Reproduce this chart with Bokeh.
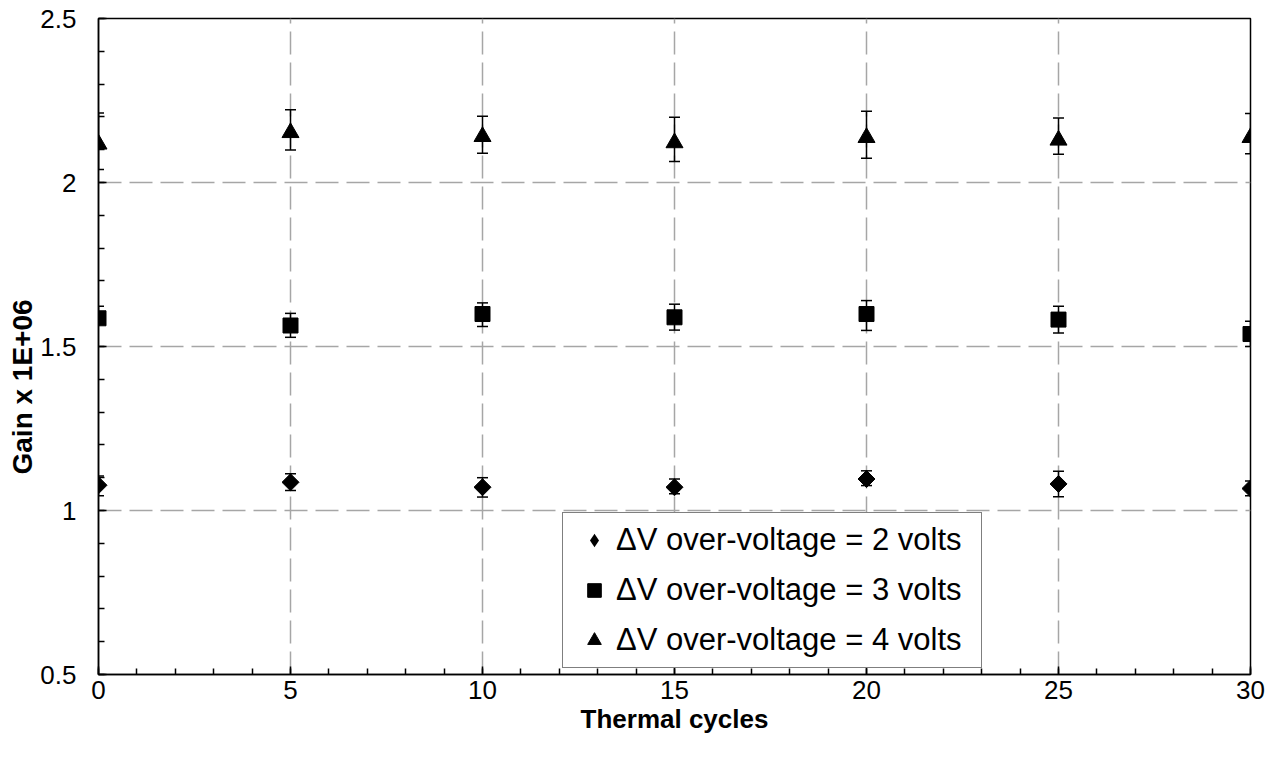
import math
from bokeh.plotting import figure
from bokeh.models import (ColumnDataSource, Range1d, SingleIntervalTicker, NumeralTickFormatter,
                          Whisker, TeeHead, Legend, LegendItem, Title)
from bokeh.embed import file_html
from bokeh.resources import INLINE

# ---- data ----
cycles = [0, 5, 10, 15, 20, 25, 30]

gain_2v = [1.077, 1.086, 1.071, 1.071, 1.096, 1.081, 1.067]
gain_2v_hi = [1.105, 1.112, 1.100, 1.096, 1.121, 1.120, 1.090]
gain_2v_lo = [1.045, 1.061, 1.041, 1.051, 1.076, 1.042, 1.045]

gain_3v = [1.586, 1.564, 1.599, 1.589, 1.599, 1.582, 1.538]
gain_3v_hi = [1.623, 1.601, 1.633, 1.629, 1.640, 1.623, 1.577]
gain_3v_lo = [1.569, 1.528, 1.561, 1.550, 1.549, 1.541, 1.500]

gain_4v = [2.117, 2.152, 2.140, 2.121, 2.137, 2.129, 2.137]
gain_4v_hi = [2.212, 2.222, 2.202, 2.199, 2.217, 2.197, 2.210]
gain_4v_lo = [2.040, 2.099, 2.089, 2.064, 2.074, 2.086, 2.088]

series_labels = ["\u0394V over-voltage = 2 volts",
                 "\u0394V over-voltage = 3 volts",
                 "\u0394V over-voltage = 4 volts"]
x_title = "Thermal cycles"
y_title = "Gain x 1E+06"

FONT = "Liberation Sans"

p = figure(frame_width=1152, frame_height=656, output_backend="svg", toolbar_location=None,
           x_range=Range1d(0, 30), y_range=Range1d(0.5, 2.5),
           min_border_left=98, min_border_top=18, min_border_right=20, min_border_bottom=84,
           background_fill_color="white", border_fill_color="white")

p.outline_line_color = "black"
p.outline_line_width = 1.5

# axes
p.xaxis.ticker = SingleIntervalTicker(interval=5, num_minor_ticks=5)
p.yaxis.ticker = SingleIntervalTicker(interval=0.5, num_minor_ticks=5)
p.yaxis.formatter = NumeralTickFormatter(format="0.[0]")
for ax in (p.xaxis[0], p.yaxis[0]):
    ax.axis_line_color = "black"
    ax.axis_line_width = 1.5
    ax.major_tick_in = 8
    ax.major_tick_out = 0
    ax.minor_tick_in = 6
    ax.minor_tick_out = 0
    ax.major_tick_line_color = "black"
    ax.minor_tick_line_color = "black"
    ax.major_tick_line_width = 1.5
    ax.minor_tick_line_width = 1.5
    ax.major_label_text_font = FONT
    ax.major_label_text_font_size = "26px"
    ax.major_label_text_color = "black"
    ax.axis_label_text_font = FONT
    ax.axis_label_text_font_size = "26px"
    ax.axis_label_text_font_style = "bold"
    ax.axis_label_text_color = "black"

p.xaxis.axis_label = x_title
p.xaxis.major_label_standoff = 6
p.yaxis.major_label_standoff = 22
p.xaxis.axis_label_standoff = 2

# y-axis title, placed lower than the frame centre as in the reference
ytitle = Title(text=y_title, align="left", offset=200, standoff=0,
               text_font=FONT, text_font_size="28px", text_font_style="bold",
               text_color="black")
p.add_layout(ytitle, "left")

# grid
for g in (p.xgrid[0], p.ygrid[0]):
    g.grid_line_color = "#a6a6a6"
    g.grid_line_width = 1.5
    g.grid_line_dash = "23 8"

src2 = ColumnDataSource(dict(x=cycles, y=gain_2v, hi=gain_2v_hi, lo=gain_2v_lo))
src3 = ColumnDataSource(dict(x=cycles, y=gain_3v, hi=gain_3v_hi, lo=gain_3v_lo))
src4 = ColumnDataSource(dict(x=cycles, y=gain_4v, hi=gain_4v_hi, lo=gain_4v_lo))

for src in (src2, src3, src4):
    w = Whisker(source=src, base="x", upper="hi", lower="lo", dimension="height",
                line_color="black", line_width=1.5,
                upper_head=TeeHead(size=11, line_color="black", line_width=1.5),
                lower_head=TeeHead(size=11, line_color="black", line_width=1.5))
    p.add_layout(w)

r2 = p.scatter("x", "y", source=src2, marker="square", angle=math.pi / 4, size=12,
               fill_color="black", line_color="black")
r3 = p.scatter("x", "y", source=src3, marker="square", size=15,
               fill_color="black", line_color="black")
r4 = p.scatter("x", "y", source=src4, marker="triangle", size=17,
               fill_color="black", line_color="black")
# legend swatch for the diamond series (legend swatches are never rotated):
# a zero-size diamond on the same data, only visible in the legend
r2_key = p.scatter("x", "y", source=src2, marker="diamond", size=0,
                   fill_color="black", line_color="black", line_width=0)

legend = Legend(items=[LegendItem(label=series_labels[0], renderers=[r2_key]),
                       LegendItem(label=series_labels[1], renderers=[r3]),
                       LegendItem(label=series_labels[2], renderers=[r4])],
                location=(464, 6), orientation="vertical",
                padding=9, spacing=14, glyph_width=44, glyph_height=34, label_height=34,
                label_width=356, label_standoff=0, margin=0,
                label_text_font=FONT, label_text_font_size="31px", label_text_color="black",
                border_line_color="black", border_line_width=1.5,
                background_fill_color="white", background_fill_alpha=1.0)
p.add_layout(legend, "center")

open("out.html", "w").write(file_html(p, INLINE))
